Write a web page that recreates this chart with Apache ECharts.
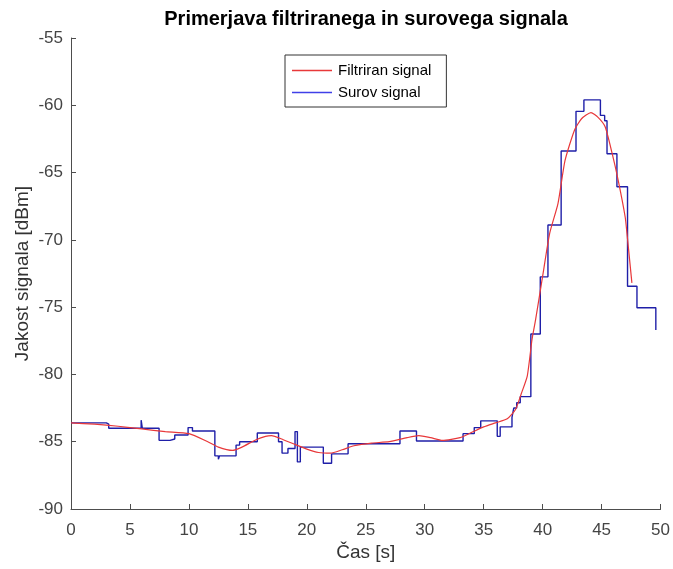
<!DOCTYPE html>
<html>
<head>
<meta charset="utf-8">
<script src="https://cdn.jsdelivr.net/npm/echarts@6/dist/echarts.min.js"></script>
<style>html,body{margin:0;padding:0;background:#fff;}#c{width:673px;height:569px;}</style>
</head>
<body>
<div id="c"></div>
<script>
// Raw (step) signal: time where a new value starts, and the value held from there
var rawTimes = [0, 3.0, 3.2, 5.95, 6.05, 7.47, 8.4, 8.8, 9.93, 10.3, 12.2, 12.5, 12.6, 14.0, 14.3, 15.8, 17.6, 17.9, 18.4, 19.0, 19.2, 19.45, 21.4, 22.1, 23.5, 27.9, 29.3, 33.25, 34.2, 34.75, 36.15, 36.4, 37.4, 37.55, 37.8, 38.1, 39.0, 39.8, 40.45, 41.57, 42.83, 43.5, 44.9, 45.26, 45.46, 46.3, 47.2, 48.0, 49.6];
var rawValues = [-83.6, -83.7, -84.0, -83.4, -84.0, -84.9, -84.8, -84.5, -83.95, -84.2, -86.05, -86.3, -86.05, -85.25, -85.0, -84.35, -85.0, -85.85, -85.5, -84.25, -86.5, -85.4, -86.6, -85.9, -85.15, -84.2, -84.95, -84.4, -83.95, -83.45, -84.6, -83.9, -83.2, -82.5, -82.1, -81.65, -77.0, -72.75, -68.9, -63.4, -60.45, -59.6, -60.75, -61.15, -63.6, -66.05, -73.45, -75.05, -76.7];
// Filtered signal
var filtTimes = [0, 2, 4, 6, 8, 10, 11.6, 12.5, 13.7, 14.5, 15.7, 16.5, 17.0, 18, 19, 20, 21, 22, 23, 24, 25.5, 27, 28.5, 29.5, 30.5, 31.5, 33, 34, 35, 36, 37, 37.7, 38.2, 38.7, 39.1, 39.4, 40.0, 40.6, 41.3, 41.9, 42.7, 43.3, 44.1, 44.7, 45.3, 45.9, 46.4, 47.0, 47.15, 47.57];
var filtValues = [-83.6, -83.7, -83.85, -84.05, -84.25, -84.4, -85.0, -85.4, -85.65, -85.4, -84.85, -84.6, -84.55, -84.85, -85.2, -85.55, -85.8, -85.85, -85.6, -85.3, -85.1, -85.0, -84.7, -84.55, -84.7, -84.9, -84.7, -84.3, -83.9, -83.6, -83.3, -82.6, -81.4, -80.1, -77.4, -75.95, -72.7, -69.5, -67.3, -64.1, -61.85, -61.0, -60.55, -60.9, -61.6, -63.6, -65.55, -68.3, -69.5, -73.2];
var xTicks = [0, 5, 10, 15, 20, 25, 30, 35, 40, 45, 50];
var yTicks = [-90, -85, -80, -75, -70, -65, -60, -55];

var rawData = rawTimes.map(function (t, i) { return [t, rawValues[i]]; });
var filtData = filtTimes.map(function (t, i) { return [t, filtValues[i]]; });

var font = 'Liberation Sans, Arial, sans-serif';
var axisCol = '#4d4d4d';
var lineIcon = 'path://M0,0 L40,0 L40,1.4 L0,1.4 Z';
var chart = echarts.init(document.getElementById('c'));
chart.setOption({
  animation: false,
  backgroundColor: '#ffffff',
  title: {
    text: 'Primerjava filtriranega in surovega signala',
    left: 366, top: 9, padding: 0, textAlign: 'center',
    textStyle: { fontFamily: font, fontSize: 20, fontWeight: 'bold', color: '#000' }
  },
  legend: {
    left: 285, top: 55, orient: 'vertical',
    borderColor: '#333', borderWidth: 1, padding: [8, 15, 7, 7],
    itemWidth: 40, itemHeight: 2, itemGap: 7,
    textStyle: { fontFamily: font, fontSize: 15, color: '#000', padding: [0, 0, 0, 1] },
    data: [
      { name: 'Filtriran signal', icon: lineIcon, itemStyle: { color: '#e8383a' } },
      { name: 'Surov signal', icon: lineIcon, itemStyle: { color: '#4040e8' } }
    ]
  },
  grid: { left: 71, right: 11, top: 38, bottom: 60, containLabel: false },
  xAxis: {
    type: 'value', min: 0, max: 50, interval: 5,
    name: 'Čas [s]', nameLocation: 'middle', nameGap: 34, nameMoveOverlap: false,
    nameTextStyle: { fontFamily: font, fontSize: 19, color: '#333' },
    axisLine: { show: true, lineStyle: { color: axisCol, width: 1 } },
    axisTick: { show: true, inside: true, length: 5, lineStyle: { color: axisCol } },
    axisLabel: { fontFamily: font, fontSize: 17, color: '#444', margin: 13,
      formatter: function (v) { return xTicks.indexOf(v) >= 0 ? String(v) : ''; } },
    splitLine: { show: false }
  },
  yAxis: {
    type: 'value', min: -90, max: -55, interval: 5,
    name: 'Jakost signala [dBm]', nameLocation: 'middle', nameGap: 39, nameMoveOverlap: false,
    nameTextStyle: { fontFamily: font, fontSize: 19, color: '#333' },
    axisLine: { show: true, lineStyle: { color: axisCol, width: 1 } },
    axisTick: { show: true, inside: true, length: 5, lineStyle: { color: axisCol } },
    axisLabel: { fontFamily: font, fontSize: 17, color: '#444', margin: 8,
      formatter: function (v) { return yTicks.indexOf(v) >= 0 ? String(v) : ''; } },
    splitLine: { show: false }
  },
  series: [
    {
      name: 'Filtriran signal', type: 'line', data: filtData,
      smooth: 0.2, symbol: 'none', showSymbol: false, z: 3,
      lineStyle: { color: '#e8383a', width: 1.2 }, itemStyle: { color: '#e8383a' }
    },
    {
      name: 'Surov signal', type: 'line', data: rawData,
      step: 'end', symbol: 'none', showSymbol: false, z: 2,
      lineStyle: { color: '#1f1fa8', width: 1.4 }, itemStyle: { color: '#4040e8' }
    }
  ]
});
</script>
</body>
</html>
